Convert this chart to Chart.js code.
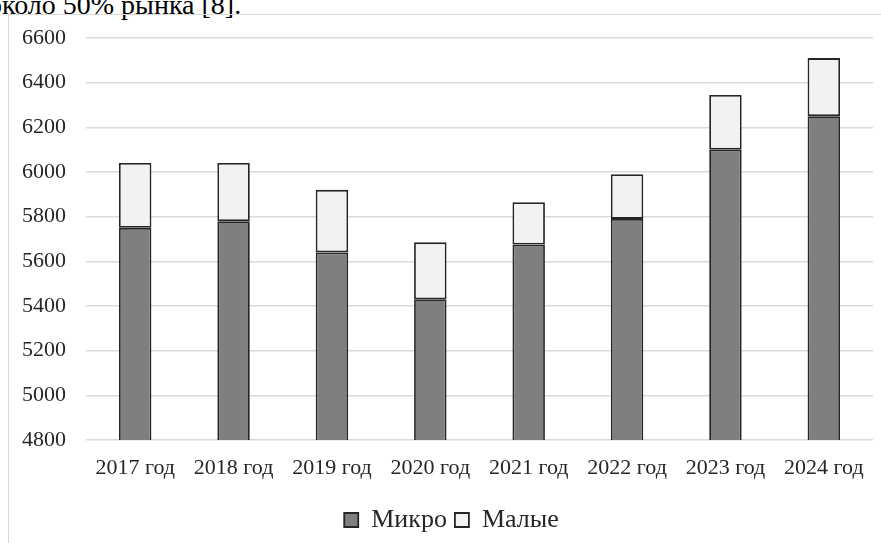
<!DOCTYPE html>
<html lang="ru">
<head>
<meta charset="utf-8">
<title>Микро и малые</title>
<script src="https://cdn.jsdelivr.net/npm/chart.js@4.4.1/dist/chart.umd.min.js"></script>
<style>
  html, body { margin: 0; padding: 0; background: #fff; }
  body { width: 881px; height: 543px; overflow: hidden; position: relative; }
  #lead {
    position: absolute; left: -12px; top: -9px;
    font: 28px/28px "Liberation Serif", "Times New Roman", serif;
    color: #000; white-space: nowrap;
  }
  #frame {
    position: absolute; left: 8px; top: 14px; width: 900px; height: 560px;
    border: 1px solid #d9d9d9; box-sizing: border-box;
  }
  #wrap { position: absolute; left: 0; top: 0; width: 881px; height: 543px; }
</style>
</head>
<body>
<div id="lead">около 50% рынка [8].</div>
<div id="frame"></div>
<div id="wrap"><canvas id="chart"></canvas></div>
<script>
// --- DATA ---
const years = ['2017 год', '2018 год', '2019 год', '2020 год', '2021 год', '2022 год', '2023 год', '2024 год'];
const micro = [5750, 5780, 5640, 5430, 5675, 5790, 6100, 6250];
const small = [290, 260, 280, 255, 190, 200, 245, 260];
const yTicks = [4800, 5000, 5200, 5400, 5600, 5800, 6000, 6200, 6400, 6600];

const fontFamily = "'Liberation Serif', 'Times New Roman', serif";
const textColor = '#262626';
const borderColor = '#262626';

Chart.defaults.font.family = fontFamily;

// The original legend sits a little right of the canvas centre.
const legendShift = {
    id: 'legendShift',
    afterLayout(chart) {
        if (!chart.legend) return;
        chart.legend.left += 15;
        chart.legend.right += 15;
    }
};

new Chart(document.getElementById('chart'), {
    type: 'bar',
    data: {
        labels: years,
        datasets: [{
            label: 'Микро',
            data: micro,
            backgroundColor: '#7f7f7f',
            borderColor: borderColor,
            borderWidth: 1.8,
            borderSkipped: false
        }, {
            label: 'Малые',
            data: small,
            backgroundColor: '#f2f2f2',
            borderColor: borderColor,
            borderWidth: 1.8,
            borderSkipped: false
        }]
    },
    options: {
        responsive: true,
        maintainAspectRatio: false,
        animation: false,
        layout: { padding: { top: 38, right: 8, bottom: 0, left: 0 } },
        datasets: { bar: { categoryPercentage: 1, barPercentage: 0.33 } },
        scales: {
            x: {
                stacked: true,
                grid: { display: false, drawTicks: false },
                border: { display: false },
                ticks: { color: textColor, font: { family: fontFamily, size: 22 }, padding: 15, maxRotation: 0 },
                afterFit: (scale) => { scale.height = 59; }
            },
            y: {
                stacked: true,
                min: 4800,
                max: 6600,
                afterBuildTicks: (scale) => { scale.ticks = yTicks.map(v => ({ value: v })); },
                grid: { color: '#d9d9d9', lineWidth: 1.5, drawTicks: false },
                border: { display: false },
                ticks: {
                    color: textColor,
                    font: { family: fontFamily, size: 22 },
                    padding: 20,
                    callback: (value) => String(value)
                },
                afterFit: (scale) => { scale.width = 86; }
            }
        },
        plugins: {
            legend: {
                position: 'bottom',
                labels: {
                    color: textColor,
                    font: { family: fontFamily, size: 26 },
                    boxWidth: 14,
                    boxHeight: 14,
                    padding: 8,
                    useBorderRadius: false
                }
            },
            tooltip: { enabled: false }
        }
    },
    plugins: [legendShift]
});
</script>
</body>
</html>
